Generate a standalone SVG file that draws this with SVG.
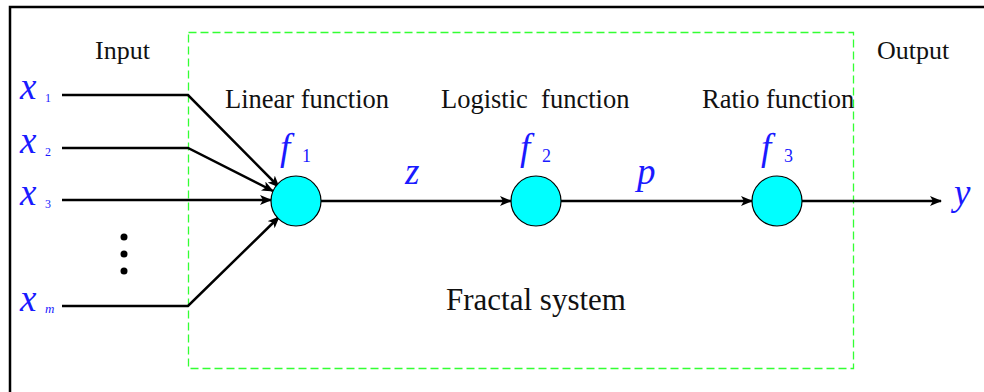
<svg xmlns="http://www.w3.org/2000/svg" width="984" height="392" viewBox="0 0 984 392">
<defs>
<style>
.lbl{font-family:"Liberation Serif","Times New Roman",serif;fill:#111;}
.var{font-family:"Liberation Serif","Times New Roman",serif;font-style:italic;fill:#1a1aff;}
.sub{font-family:"Liberation Serif","Times New Roman",serif;fill:#1a1aff;}
.wire{fill:none;stroke:#000;stroke-width:2.5;}
.node{fill:#00ffff;stroke:#000;stroke-width:1.2;}
</style>
<marker id="ah" viewBox="0 0 12 10" refX="11" refY="5" markerWidth="12" markerHeight="10" markerUnits="userSpaceOnUse" orient="auto">
<path d="M0,0 L12,5 L0,10 L3,5 Z" fill="#000"/>
</marker>
</defs>
<rect width="984" height="392" fill="#fff"/>
<path d="M10,392 V7 H984" fill="none" stroke="#000" stroke-width="2.5"/>
<rect x="188.5" y="32.5" width="665" height="336" fill="none" stroke="#33ff33" stroke-width="1.3" stroke-dasharray="8,4"/>
<g id="connectors">
<path class="wire" d="M62,95 H188 L279,187" marker-end="url(#ah)"/>
<path class="wire" d="M62,148 H188 L273,191" marker-end="url(#ah)"/>
<path class="wire" d="M62,200 H271" marker-end="url(#ah)"/>
<path class="wire" d="M62,306 H188 L279,217" marker-end="url(#ah)"/>
<path class="wire" d="M321,201 H511" marker-end="url(#ah)"/>
<path class="wire" d="M561,201 H752" marker-end="url(#ah)"/>
<path class="wire" d="M802,201 H941" marker-end="url(#ah)"/>
</g>
<g id="input-labels">
<text class="lbl" x="95" y="59" font-size="26">Input</text>
<text class="var" x="20" y="99" font-size="37">x</text><text class="sub" x="45" y="102" font-size="12">1</text>
<text class="var" x="20" y="153" font-size="37">x</text><text class="sub" x="45" y="156" font-size="12">2</text>
<text class="var" x="20" y="205" font-size="37">x</text><text class="sub" x="45" y="208" font-size="12">3</text>
<text class="var" x="20" y="311" font-size="37">x</text><text class="var" x="45" y="313" font-size="13">m</text>
<circle cx="124" cy="237" r="3.5" fill="#000"/>
<circle cx="124" cy="254" r="3.5" fill="#000"/>
<circle cx="124" cy="271" r="3.5" fill="#000"/>
</g>
<g id="f1">
<text class="lbl" x="225" y="108" font-size="26.5">Linear function</text>
<text class="var" x="280" y="160" font-size="37">f</text><text class="sub" x="302" y="162" font-size="18">1</text>
<circle class="node" cx="296" cy="201" r="25"/>
</g>
<g id="f2">
<text class="lbl" x="441" y="108" font-size="26.5" xml:space="preserve">Logistic  function</text>
<text class="var" x="520" y="160" font-size="37">f</text><text class="sub" x="542" y="162" font-size="18">2</text>
<circle class="node" cx="536" cy="201" r="25"/>
</g>
<g id="f3">
<text class="lbl" x="702" y="108" font-size="26.5">Ratio function</text>
<text class="var" x="761" y="160" font-size="37">f</text><text class="sub" x="784" y="162" font-size="18">3</text>
<circle class="node" cx="777" cy="201" r="25"/>
</g>
<g id="signals">
<text class="var" x="405" y="184" font-size="37">z</text>
<text class="var" x="637" y="184" font-size="37">p</text>
<text class="var" x="954" y="205" font-size="37">y</text>
</g>
<g id="output">
<text class="lbl" x="877" y="59" font-size="26">Output</text>
</g>
<text class="lbl" x="446" y="310" font-size="31">Fractal system</text>
</svg>
